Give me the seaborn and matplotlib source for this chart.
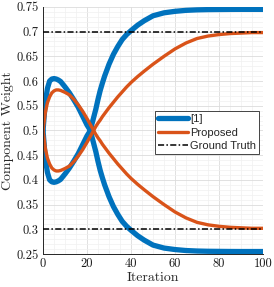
import matplotlib
matplotlib.use('Agg')
import pandas as pd
import seaborn as sns
from matplotlib import pyplot as plt
from matplotlib.ticker import FuncFormatter, MultipleLocator

iters = [0, 1, 2, 3, 4, 5, 6, 7, 8, 10, 12, 14, 16, 18, 20, 21, 22, 23, 24, 25, 26, 27, 28,
         30, 32, 34, 36, 38, 40, 43, 46, 50, 55, 60, 65, 70, 75, 80, 85, 90, 95, 100]

# [1] : component going up first, then down to ~0.255
ref_a = [0.5, 0.555, 0.585, 0.600, 0.604, 0.605, 0.604, 0.602, 0.599, 0.588, 0.576, 0.562,
         0.547, 0.529, 0.511, 0.504, 0.491, 0.474, 0.457, 0.437, 0.419, 0.404, 0.390,
         0.366, 0.346, 0.330, 0.316, 0.306, 0.298, 0.287, 0.278, 0.268, 0.262, 0.259,
         0.257, 0.256, 0.2555, 0.2553, 0.2551, 0.255, 0.255, 0.255]
# [1] : the other component
ref_b = [0.5, 0.445, 0.415, 0.400, 0.396, 0.395, 0.396, 0.398, 0.401, 0.412, 0.424, 0.438,
         0.453, 0.471, 0.489, 0.496, 0.509, 0.526, 0.543, 0.563, 0.581, 0.596, 0.610,
         0.634, 0.654, 0.670, 0.684, 0.694, 0.702, 0.713, 0.722, 0.732, 0.738, 0.741,
         0.743, 0.744, 0.7445, 0.7447, 0.7449, 0.745, 0.745, 0.745]

# Proposed
prop_a = [0.5, 0.535, 0.556, 0.568, 0.576, 0.580, 0.582, 0.582, 0.581, 0.577, 0.572, 0.563,
          0.552, 0.539, 0.524, 0.516, 0.508, 0.500, 0.492, 0.485, 0.479, 0.472, 0.466,
          0.454, 0.443, 0.432, 0.422, 0.412, 0.403, 0.391, 0.380, 0.366, 0.350, 0.335,
          0.323, 0.314, 0.309, 0.306, 0.304, 0.303, 0.302, 0.302]
prop_b = [0.5, 0.465, 0.444, 0.432, 0.424, 0.420, 0.418, 0.418, 0.419, 0.423, 0.428, 0.437,
          0.448, 0.461, 0.476, 0.484, 0.492, 0.500, 0.508, 0.515, 0.521, 0.528, 0.534,
          0.546, 0.557, 0.568, 0.578, 0.588, 0.597, 0.609, 0.620, 0.634, 0.650, 0.665,
          0.677, 0.686, 0.691, 0.694, 0.696, 0.697, 0.698, 0.698]

truth_x = [0, 100]
truth_hi = [0.7, 0.7]
truth_lo = [0.3, 0.3]

sns.set_style('white')
plt.rcParams['font.family'] = ['cmr10', 'DejaVu Serif']
plt.rcParams['axes.formatter.use_mathtext'] = True

fig = plt.figure(figsize=(2.74, 2.87), dpi=100)
ax = fig.add_axes([0.157, 0.115, 0.803, 0.861])

blue = '#0072BD'
orange = '#D95319'

sns.lineplot(x=iters, y=ref_a, color=blue, lw=3.8, label='[1]', ax=ax)
sns.lineplot(x=iters, y=ref_b, color=blue, lw=3.8, ax=ax)
sns.lineplot(x=iters, y=prop_a, color=orange, lw=2.4, label='Proposed', ax=ax)
sns.lineplot(x=iters, y=prop_b, color=orange, lw=2.4, ax=ax)
ax.plot(truth_x, truth_hi, color='black', lw=1.1, ls='-.', dashes=(4, 1.5, 1, 1.5),
        label='Ground Truth', zorder=5)
ax.plot(truth_x, truth_lo, color='black', lw=1.1, ls='-.', dashes=(4, 1.5, 1, 1.5), zorder=5)

ax.set_xlim(0, 100)
ax.set_ylim(0.25, 0.75)
ax.xaxis.set_major_locator(MultipleLocator(20))
ax.xaxis.set_minor_locator(MultipleLocator(5))
ax.yaxis.set_major_locator(MultipleLocator(0.05))
ax.yaxis.set_minor_locator(MultipleLocator(0.01))
ax.yaxis.set_major_formatter(FuncFormatter(lambda v, pos: '{:g}'.format(round(v, 2))))
ax.xaxis.set_major_formatter(FuncFormatter(lambda v, pos: '{:g}'.format(v)))

ax.grid(which='major', color='#dcdcdc', lw=0.6)
ax.grid(which='minor', color='#f0f0f0', lw=0.5)
ax.set_axisbelow(True)

for s in ['top', 'right']:
    ax.spines[s].set_visible(False)
for s in ['left', 'bottom']:
    ax.spines[s].set_color('#262626')
    ax.spines[s].set_linewidth(0.7)

ax.tick_params(which='major', direction='in', length=3, width=0.6, color='#262626',
               labelsize=9, labelcolor='#1a1a1a', pad=3)
ax.tick_params(which='minor', length=0)

ax.set_xlabel('Iteration', fontsize=10, labelpad=1)
ax.set_ylabel('Component Weight', fontsize=10, labelpad=2)

leg = ax.legend(loc='upper left', bbox_to_anchor=(0.509, 0.579), borderaxespad=0,
                prop={'family': 'Liberation Sans', 'size': 8}, handlelength=2.7,
                handletextpad=0.15, labelspacing=0.3, borderpad=0.3, fancybox=False,
                framealpha=1, edgecolor='#262626')
leg.get_frame().set_linewidth(0.6)

fig.savefig('out.png', dpi=100)
